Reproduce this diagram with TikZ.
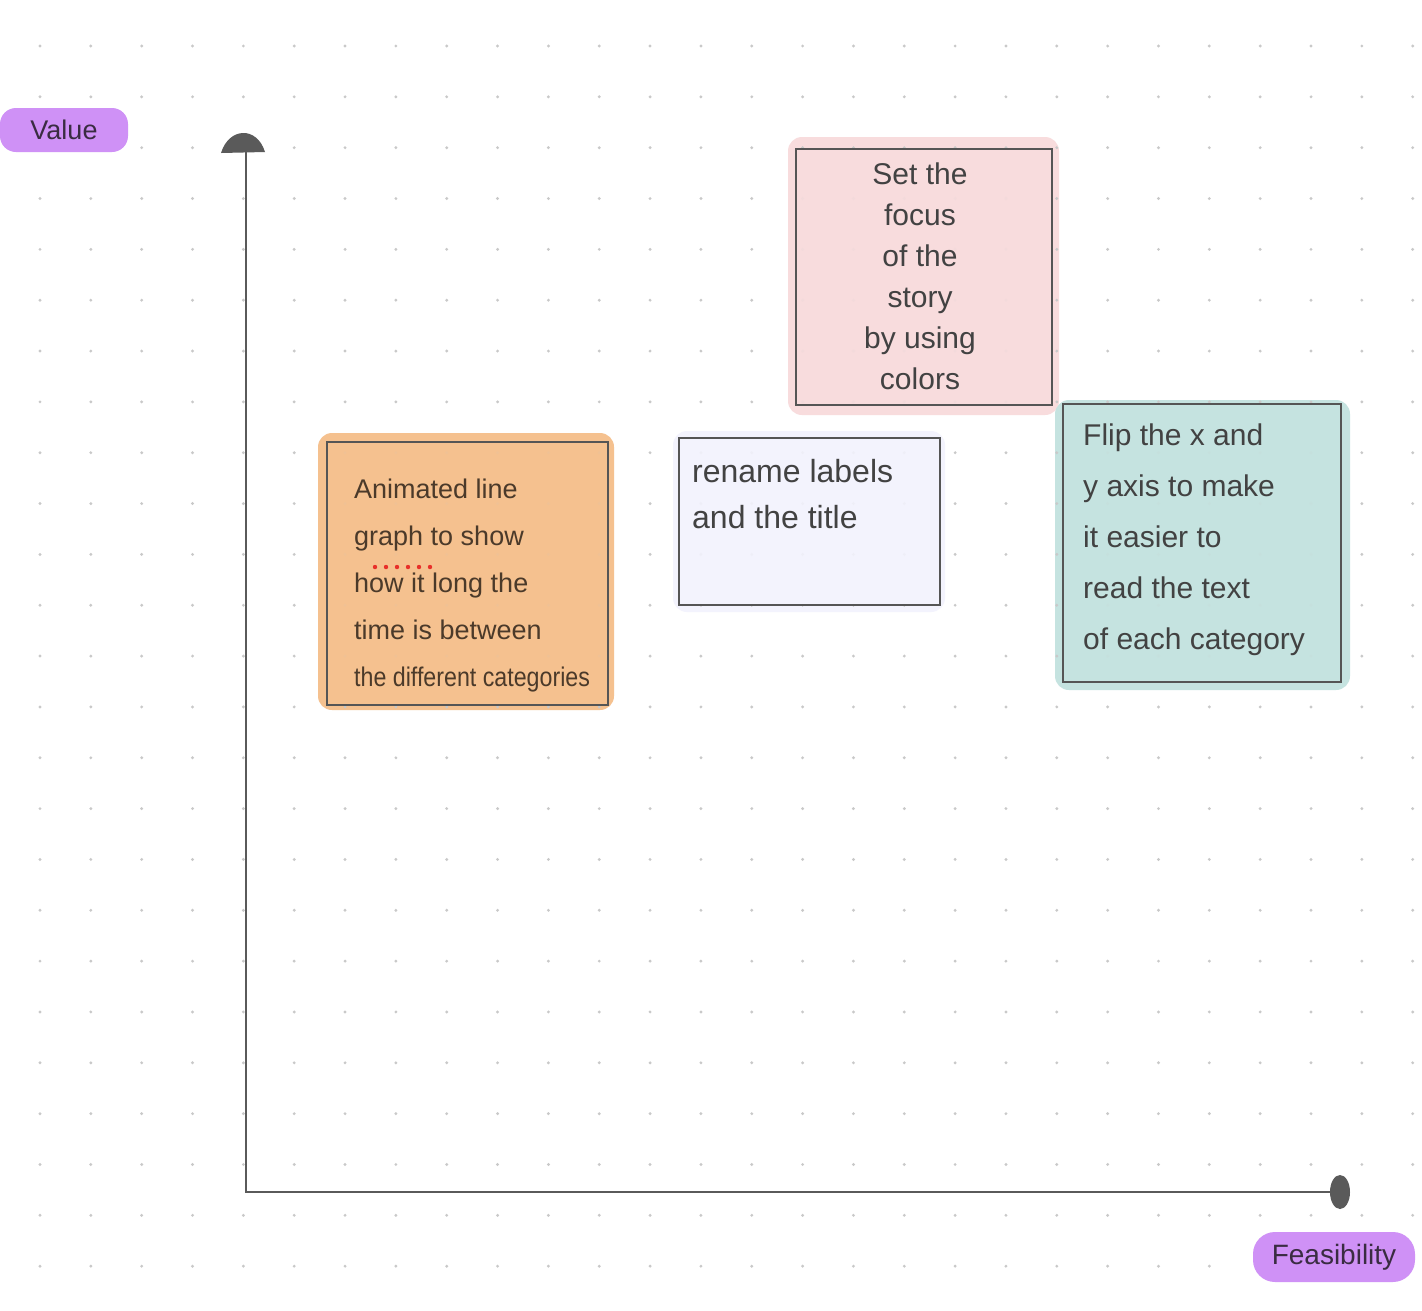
\documentclass[tikz,border=0pt]{standalone}
\usepackage{fontspec}
\setmainfont{Liberation Sans}
\usetikzlibrary{positioning,calc,backgrounds}
\definecolor{gridcol}{HTML}{C9C9C9}
\definecolor{axiscol}{HTML}{5A5A5A}
\definecolor{notedraw}{HTML}{555555}
\definecolor{pinkfill}{HTML}{F8DCDD}
\definecolor{orangefill}{HTML}{F5C18F}
\definecolor{lavfill}{HTML}{F3F3FD}
\definecolor{tealfill}{HTML}{C5E3E0}
\definecolor{markerfill}{HTML}{CF91F6}
\definecolor{inkgray}{HTML}{424242}
\definecolor{inkbrown}{HTML}{4B3A2A}
\definecolor{inkpurple}{HTML}{3A2C42}
\definecolor{spellred}{HTML}{E8302A}

\begin{document}
\begin{tikzpicture}[x=1pt,y=-1pt]
\tikzstyle{note}=[draw=notedraw, line width=2pt, inner sep=0pt, anchor=north west, fill opacity=0.9]
\tikzstyle{notetext}=[anchor=north west, align=left, inner sep=0pt]
\tikzstyle{marker}=[fill=markerfill, rounded corners=16pt, text=inkpurple]
\tikzstyle{axis}=[draw=axiscol, line width=2.5pt]
\begin{pgfonlayer}{background}
\fill[white] (0,0) rectangle (1422,1310);
\end{pgfonlayer}
\useasboundingbox (0,0) rectangle (1422,1310);
\foreach \i in {0,...,27}
  \foreach \j in {0,...,24}
    \fill[gridcol] (40+50.84*\i, 46+50.84*\j) circle (1.6);

\coordinate (origin) at (246,1192);
\coordinate (ytip) at (246,150);
\coordinate (xtip) at (1332,1192);
\draw[axis] (ytip) -- (origin) -- (xtip);
\fill[axiscol] ([shift={(-25,3)}]ytip) .. controls +(8,-26) and +(-8,-26) .. ([shift={(19,2)}]ytip) -- cycle;
\fill[axiscol] ([xshift=8pt]xtip) ellipse (10 and 17);

\node[marker, minimum width=128pt, minimum height=44pt, font=\fontsize{27}{30}\selectfont] (valuelabel) at (64,130) {Value};
\node[marker, minimum width=162pt, minimum height=50pt, rounded corners=22pt, font=\fontsize{28}{30}\selectfont] (feaslabel) at (1334,1257) {Feasibility};

\node[note, fill=pinkfill, minimum width=256pt, minimum height=256pt] (focus) at (795,148) {};
\node[note, fill=orangefill, minimum width=281pt, minimum height=263pt] (anim) at (326,441) {};
\node[note, fill=lavfill, minimum width=261pt, minimum height=167pt] (rename) at (678,437) {};
\node[note, fill=tealfill, minimum width=278pt, minimum height=278pt] (flip) at (1062,403) {};

\begin{pgfonlayer}{background}
\fill[pinkfill, rounded corners=14pt] ([shift={(-7,-11)}]focus.north west) rectangle ([shift={(6,9)}]focus.south east);
\fill[orangefill, rounded corners=14pt] ([shift={(-8,-8)}]anim.north west) rectangle ([shift={(5,4)}]anim.south east);
\fill[lavfill, rounded corners=14pt] ([shift={(-5,-6)}]rename.north west) rectangle ([shift={(4,6)}]rename.south east);
\fill[tealfill, rounded corners=14pt] ([shift={(-7,-3)}]flip.north west) rectangle ([shift={(8,7)}]flip.south east);
\end{pgfonlayer}

\node[anchor=north, align=center, inner sep=0pt, text=inkgray, font=\fontsize{30}{41}\selectfont] (focustext) at ([shift={(-4,15)}]focus.north) {Set the\\focus\\of the\\story\\by using\\colors};
\node[notetext, text=inkbrown, font=\fontsize{27}{47}\selectfont] (animtext) at ([shift={(28,38)}]anim.north west) {Animated line\\graph to show\\how it long the\\time is between\\\scalebox{0.86}[1]{the different categories}};
\node[notetext, text=inkgray, font=\fontsize{32}{46}\selectfont] (renametext) at ([shift={(14,22)}]rename.north west) {rename labels\\and the title};
\node[notetext, text=inkgray, font=\fontsize{30}{51}\selectfont] (fliptext) at ([shift={(21,21)}]flip.north west) {Flip the x and\\y axis to make\\it easier to\\read the text\\of each category};
\foreach \k in {0,...,5}
  \fill[spellred] (375+11*\k,567) circle (2.2);
\end{tikzpicture}
\end{document}
